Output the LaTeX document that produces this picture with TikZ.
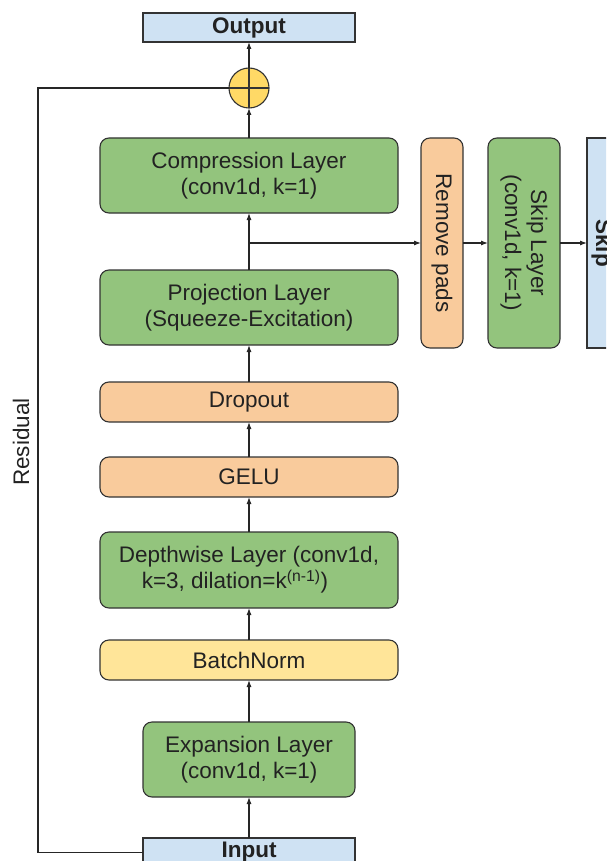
\documentclass[tikz,border=0pt]{standalone}
\usepackage{fontspec}
\setmainfont{Liberation Sans}
\usetikzlibrary{positioning,arrows.meta}

\definecolor{layergreen}{HTML}{93C47D}
\definecolor{oporange}{HTML}{F9CB9C}
\definecolor{iolblue}{HTML}{CFE2F3}
\definecolor{normyellow}{HTML}{FFE599}
\definecolor{sumyellow}{HTML}{FFD966}
\definecolor{edge}{HTML}{333333}
\definecolor{ink}{HTML}{222222}

\tikzset{
  every node/.style={font=\fontsize{22.5}{26}\selectfont, text=ink, outer sep=0pt, inner sep=2pt},
  blk/.style={draw=edge, line width=1.1pt, rounded corners=9pt, align=center,
    minimum width=298pt},
  layer/.style={blk, fill=layergreen, minimum height=75pt},
  thin/.style={blk, minimum height=40pt},
  io/.style={draw=black!80, line width=1.1pt, fill=iolblue, minimum width=212pt,
    minimum height=29pt, font=\fontsize{22.5}{26}\selectfont\bfseries},
  sumnode/.style={circle, draw=edge, line width=1.1pt, fill=sumyellow, minimum size=40pt},
  flow/.style={-{Latex[length=7pt,width=5pt]}, line width=1.1pt, draw=black!85},
}

\begin{document}
\begin{tikzpicture}
  \useasboundingbox (0,0) rectangle (606pt,-861pt);
  \clip (0,0) rectangle (606pt,-861pt);

  % main column, bottom to top
  \node[io] (input) at (249pt,-852.5pt) {Input};
  \node[layer, minimum width=212pt, above=41pt of input] (expand) {Expansion Layer\\(conv1d, k=1)};
  \node[thin, fill=normyellow, above=42pt of expand] (bnorm) {BatchNorm};
  \node[layer, minimum height=76pt, above=32pt of bnorm] (depth) {Depthwise Layer (conv1d,\\k=3, dilation=k\textsuperscript{(n-1)})\hspace*{28pt}};
  \node[thin, fill=oporange, above=35pt of depth] (gelu) {GELU};
  \node[thin, fill=oporange, above=35pt of gelu] (drop) {Dropout};
  \node[layer, above=37pt of drop] (proj) {Projection Layer\\(Squeeze-Excitation)};
  \node[layer, above=57pt of proj] (comp) {Compression Layer\\(conv1d, k=1)};
  \node[sumnode, above=30pt of comp] (sum) {};
  \node[io, above=26pt of sum] (output) {Output};
  \draw[line width=1.1pt, draw=edge] (sum.north) -- (sum.south) (sum.west) -- (sum.east);

  % skip branch
  \coordinate (br) at (249pt,-243pt);
  \node[blk, fill=oporange, rotate=-90, minimum width=210pt, minimum height=42pt] (pads) at (442pt,-243pt) {Remove pads};
  \node[blk, fill=layergreen, rotate=-90, minimum width=210pt, minimum height=72pt] (skiplayer) at (524pt,-243pt) {Skip Layer\\(conv1d, k=1)};
  \node[io, rotate=-90, minimum width=210pt, minimum height=30pt] (skip) at (602pt,-243pt) {Skip};

  % connectors
  \draw[flow] (input) -- (expand);
  \draw[flow] (expand) -- (bnorm);
  \draw[flow] (bnorm) -- (depth);
  \draw[flow] (depth) -- (gelu);
  \draw[flow] (gelu) -- (drop);
  \draw[flow] (drop) -- (proj);
  \draw[flow] (proj) -- (comp);
  \draw[flow] (comp) -- (sum);
  \draw[flow] (sum) -- (output);
  \draw[flow] (br) -- (pads);
  \draw[flow] (pads) -- (skiplayer);
  \draw[flow] (skiplayer) -- (skip);

  % residual
  \coordinate (resc) at (38pt,-442pt);
  \draw[line width=1.1pt, draw=black!85] (input.west) -| (resc) |- (sum.west);
  \node[rotate=90] (reslabel) at (21pt,-442pt) {Residual};
\end{tikzpicture}
\end{document}
